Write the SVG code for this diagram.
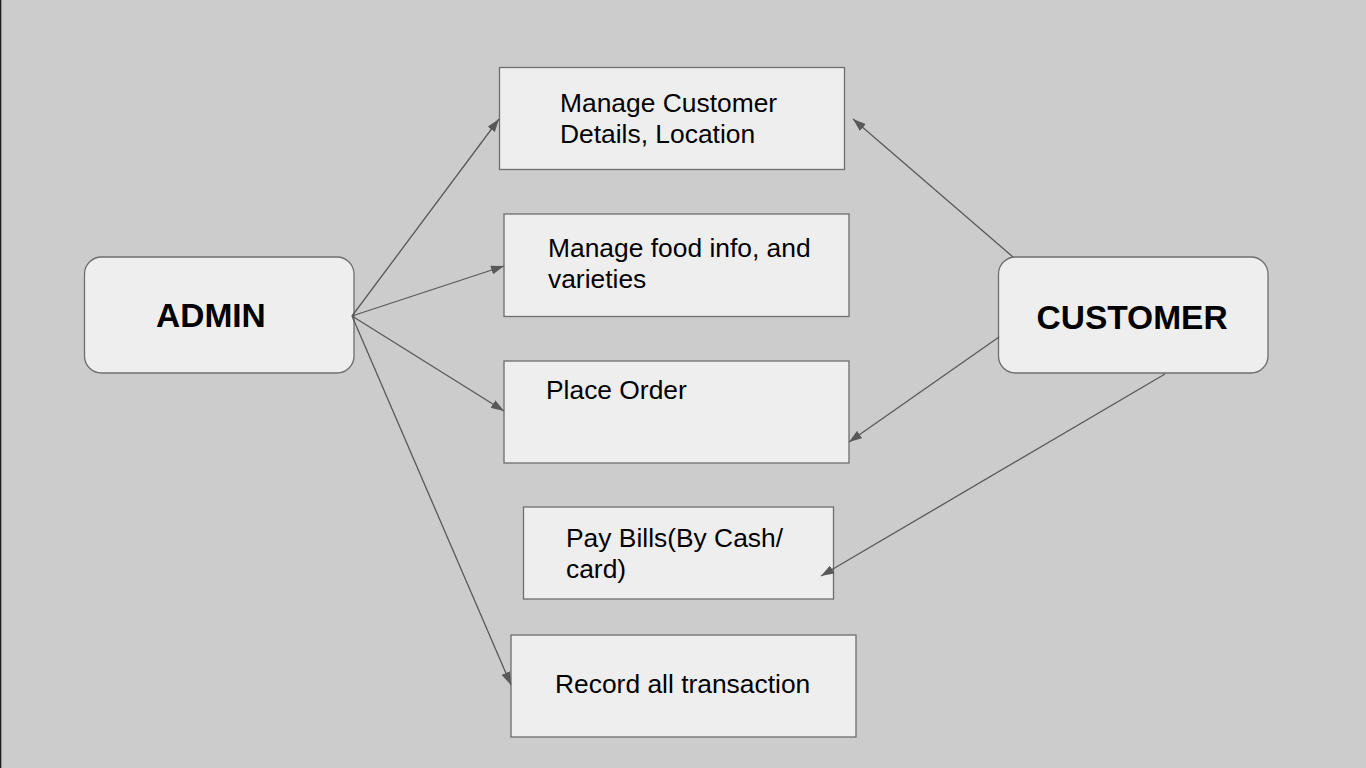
<svg xmlns="http://www.w3.org/2000/svg" width="1366" height="768" viewBox="0 0 1366 768">
<defs>
<style>
.node{fill:#eeeeee;stroke:#6e6e6e;stroke-width:1.3}
.t{font-family:"Liberation Sans",Arial,sans-serif;font-size:26.4px;fill:#000}
.b{font-family:"Liberation Sans",Arial,sans-serif;font-size:33.5px;font-weight:bold;fill:#000}
.c{stroke:#595959;stroke-width:1.3;fill:none;marker-end:url(#ah)}
</style>
<marker id="ah" viewBox="0 0 13 9" refX="13" refY="4.5" markerWidth="13" markerHeight="9" markerUnits="userSpaceOnUse" orient="auto">
<path d="M0,0 L13,4.5 L0,9 Z" fill="#595959"/>
</marker>
</defs>
<rect x="0" y="0" width="1366" height="768" fill="#cccccc"/>
<rect x="0" y="0" width="1.3" height="768" fill="#1a1a1a"/>
<g id="admin">
<rect class="node" x="84.5" y="257" width="269.5" height="116" rx="17"/>
<text class="b" x="156" y="327">ADMIN</text>
</g>
<g id="customer">
<rect class="node" x="998.5" y="257" width="269.5" height="116" rx="17"/>
<text class="b" x="1036.5" y="328.5">CUSTOMER</text>
</g>
<g id="manage-customer">
<rect class="node" x="499.5" y="67.5" width="345" height="102"/>
<text class="t" x="560" y="111.7">Manage Customer</text>
<text class="t" x="560" y="142.7">Details, Location</text>
</g>
<g id="manage-food">
<rect class="node" x="504" y="214" width="345" height="102.5"/>
<text class="t" x="548" y="256.7">Manage food info, and</text>
<text class="t" x="548" y="287.7">varieties</text>
</g>
<g id="place-order">
<rect class="node" x="504" y="361" width="345" height="102"/>
<text class="t" x="546" y="399">Place Order</text>
</g>
<g id="pay-bills">
<rect class="node" x="523.5" y="507" width="310" height="92"/>
<text class="t" x="566" y="546.5">Pay Bills(By Cash/</text>
<text class="t" x="566" y="577.5">card)</text>
</g>
<g id="record">
<rect class="node" x="511" y="635" width="345" height="102"/>
<text class="t" x="555" y="692.5">Record all transaction</text>
</g>
<g id="connectors">
<line class="c" x1="352" y1="316" x2="499" y2="119"/>
<line class="c" x1="352" y1="316" x2="504" y2="266"/>
<line class="c" x1="352" y1="316" x2="504" y2="411"/>
<line class="c" x1="352" y1="316" x2="511" y2="685"/>
<line class="c" x1="1013" y1="257" x2="853" y2="119"/>
<line class="c" x1="999" y1="337" x2="849" y2="442"/>
<line class="c" x1="1165" y1="374" x2="821" y2="576"/>
</g>
</svg>
